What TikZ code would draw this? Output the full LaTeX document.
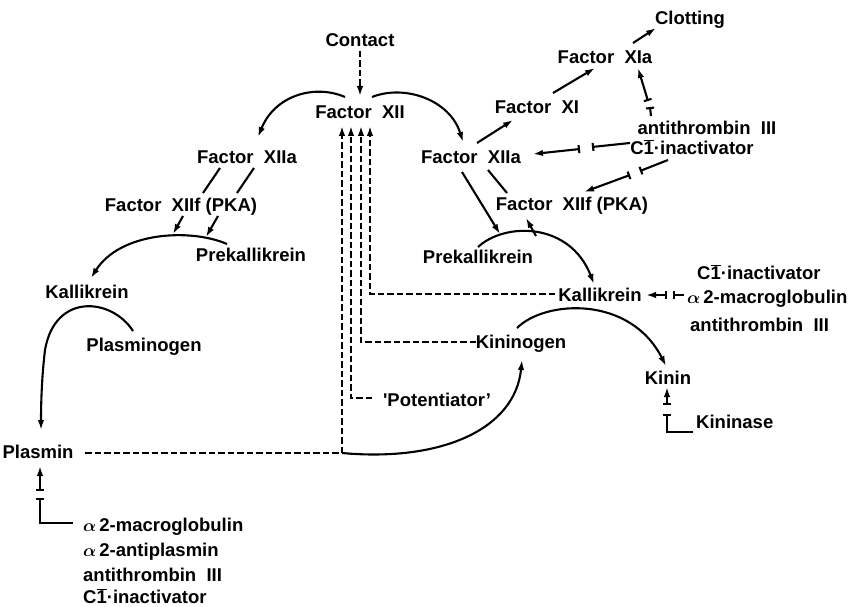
\documentclass[tikz,border=0pt]{standalone}
\usepackage{fontspec}
\setmainfont{Liberation Sans}
\usetikzlibrary{arrows.meta}
\newcommand{\Cinh}{C\ensuremath{\overline{\mbox{1}}}·inactivator}
\newcommand{\aph}{{\boldmath$\alpha$}\,}
\begin{document}
\begin{tikzpicture}[x=1pt,y=-1pt,
  lbl/.style={inner sep=0pt, font=\bfseries\fontsize{18.5}{20}\selectfont, anchor=base},
  lblw/.style={lbl, anchor=base west},
  sol/.style={line width=2.1pt},
  dsh/.style={line width=1.9pt, dash pattern=on 6.5pt off 3pt},
  tip/.style={-{Latex[length=10pt,width=6.5pt]}},
  inh/.style={sol, {Bar[width=8pt]}-{Latex[length=10pt,width=6.5pt]}},
  inhs/.style={sol, {Bar[width=8pt]}-},
  inhe/.style={sol, -{Bar[width=8pt]}}]
\useasboundingbox (0,0) rectangle (852,607);

% ---------- labels ----------
\node[lbl] (contact) at (360,46.5) {Contact};
\node[lbl] (f12) at (360,118.5) {Factor~~XII};
\node[lbl] (f12aL) at (247,163.5) {Factor~~XIIa};
\node[lbl] (f12fL) at (181,211.5) {Factor~~XIIf (PKA)};
\node[lbl] (pkL) at (251,261.5) {Prekallikrein};
\node[lbl] (kalL) at (87,298.5) {Kallikrein};
\node[lbl] (plg) at (144,351.5) {Plasminogen};
\node[lbl] (plasmin) at (38,458.5) {Plasmin};
\node[lblw] (inhL1) at (83,531) {\aph2-macroglobulin};
\node[lblw] (inhL2) at (83,556) {\aph2-antiplasmin};
\node[lblw] (inhL3) at (83,581) {antithrombin~~III};
\node[lblw] (inhL4) at (83,603) {\Cinh};

\node[lbl] (clot) at (690,24.5) {Clotting};
\node[lbl] (f11a) at (605,63.5) {Factor~~XIa};
\node[lbl] (f11) at (537,113.5) {Factor~~XI};
\node[lbl] (atR) at (707,134.5) {antithrombin~~III};
\node[lbl] (c1R) at (692,154.5) {\Cinh};
\node[lbl] (f12aR) at (471,163.5) {Factor~~XIIa};
\node[lbl] (f12fR) at (572,210.5) {Factor~~XIIf (PKA)};
\node[lbl] (pkR) at (478,263) {Prekallikrein};
\node[lbl] (kalR) at (600,301.5) {Kallikrein};
\node[lblw] (c1R2) at (697,279.5) {\Cinh};
\node[lblw] (a2mR) at (687,303.5) {\aph2-macroglobulin};
\node[lblw] (atR2) at (690,331.5) {antithrombin~~III};
\node[lbl] (kng) at (521,348.5) {Kininogen};
\node[lbl] (kinin) at (668,384.5) {Kinin};
\node[lblw] (kinase) at (696,428.5) {Kininase};
\node[lbl] (pot) at (437,406.5) {\textquotesingle Potentiator’};

% ---------- coordinates ----------
\coordinate (cA) at (360,51);   \coordinate (cB) at (360,96);
\coordinate (xL0) at (345,97);  \coordinate (xL1) at (258,137);
\coordinate (xR0) at (372,97);  \coordinate (xR1) at (463,142);
\coordinate (lA0) at (220,168); \coordinate (lA1) at (203,193);
\coordinate (lB0) at (254,168); \coordinate (lB1) at (237,193);
\coordinate (aA0) at (183,216); \coordinate (aA1) at (173,234);
\coordinate (aB0) at (218,216); \coordinate (aB1) at (206,237);
\coordinate (pkL0) at (227,244); \coordinate (kalL1) at (91,278);
\coordinate (plg0) at (133,331); \coordinate (plg1) at (45,350); \coordinate (plm1) at (41,430);
\coordinate (plmE) at (85,453); \coordinate (v1b) at (342,453); \coordinate (v1t) at (342,126);
\coordinate (potW) at (372,398); \coordinate (v2b) at (351,398); \coordinate (v2t) at (351,126);
\coordinate (kngW) at (476,342); \coordinate (v3b) at (361,342); \coordinate (v3t) at (361,126);
\coordinate (kalW) at (555,294); \coordinate (v4b) at (370,294); \coordinate (v4t) at (370,126);
\coordinate (kng1) at (522,360);
% right side
\coordinate (r1a) at (477,143); \coordinate (r1b) at (513,120);
\coordinate (r2a) at (553,93);  \coordinate (r2b) at (595,68);
\coordinate (r3a) at (633,43);  \coordinate (r3b) at (656,28);
\coordinate (at1) at (648,101); \coordinate (at2) at (638,68);
\coordinate (at3) at (650,107); \coordinate (at4) at (651,116);
\coordinate (ci1) at (580,149); \coordinate (ci2) at (533,154);
\coordinate (ci3) at (592,147); \coordinate (ci4) at (630,143);
\coordinate (cf1) at (668,160); \coordinate (cf2) at (640,171);
\coordinate (cf3) at (630,175); \coordinate (cf4) at (584,192);
\coordinate (rx0) at (462,172); \coordinate (rx1) at (500,234);
\coordinate (ry0) at (488,170); \coordinate (ry1) at (507,193);
\coordinate (rz0) at (536,236); \coordinate (rz1) at (526,218);
\coordinate (pkR0) at (478,247); \coordinate (kalR1) at (594,284);
\coordinate (kng0) at (517,328); \coordinate (kin1) at (666,366);
\coordinate (ka1) at (667,295); \coordinate (ka2) at (646,295);
\coordinate (ka3) at (673,295); \coordinate (ka4) at (684,295);
\coordinate (kn1) at (667,405); \coordinate (kn2) at (667,387);
\coordinate (kn3) at (667,414); \coordinate (kn4) at (667,432); \coordinate (kn5) at (693,432);
\coordinate (pl1) at (40,491); \coordinate (pl2) at (40,466);
\coordinate (pl3) at (40,498); \coordinate (pl4) at (40,523); \coordinate (pl5) at (73,523);

% ---------- connectors ----------
\draw[dsh, tip] (cA) -- (cB);
\draw[sol, tip] (xL0) .. controls (315,84) and (275,95) .. (xL1);
\draw[sol, tip] (xR0) .. controls (405,84) and (450,100) .. (xR1);
\draw[sol] (lA0) -- (lA1);
\draw[sol] (lB0) -- (lB1);
\draw[sol, tip] (aA0) -- (aA1);
\draw[sol, tip] (aB0) -- (aB1);
\draw[sol, tip] (pkL0) .. controls (190,228) and (120,232) .. (kalL1);
\draw[sol, tip] (plg0) .. controls (112,298) and (55,292) .. (plg1)
  .. controls (42,375) and (41,400) .. (plm1);
\draw[dsh] (plmE) -- (v1b);
\draw[dsh, tip] (v1b) -- (v1t);
\draw[dsh, tip] (potW) -- (v2b) -- (v2t);
\draw[dsh, tip] (kngW) -- (v3b) -- (v3t);
\draw[dsh, tip] (kalW) -- (v4b) -- (v4t);
\draw[sol, tip] (v1b) .. controls (440,462) and (515,430) .. (kng1);

\draw[sol, tip] (r1a) -- (r1b);
\draw[sol, tip] (r2a) -- (r2b);
\draw[sol, tip] (r3a) -- (r3b);
\draw[inh] (at1) -- (at2);
\draw[inhs] (at3) -- (at4);
\draw[inh] (ci1) -- (ci2);
\draw[inhs] (ci3) -- (ci4);
\draw[inhe] (cf1) -- (cf2);
\draw[inh] (cf3) -- (cf4);
\draw[sol, tip] (rx0) -- (rx1);
\draw[sol] (ry0) -- (ry1);
\draw[sol, tip] (rz0) -- (rz1);
\draw[sol, tip] (pkR0) .. controls (505,222) and (570,222) .. (kalR1);
\draw[sol, tip] (kng0) .. controls (545,300) and (630,295) .. (kin1);
\draw[inh] (ka1) -- (ka2);
\draw[inhs] (ka3) -- (ka4);
\draw[inh] (kn1) -- (kn2);
\draw[inhs] (kn3) -- (kn4) -- (kn5);
\draw[inh] (pl1) -- (pl2);
\draw[inhs] (pl3) -- (pl4) -- (pl5);
\end{tikzpicture}
\end{document}
